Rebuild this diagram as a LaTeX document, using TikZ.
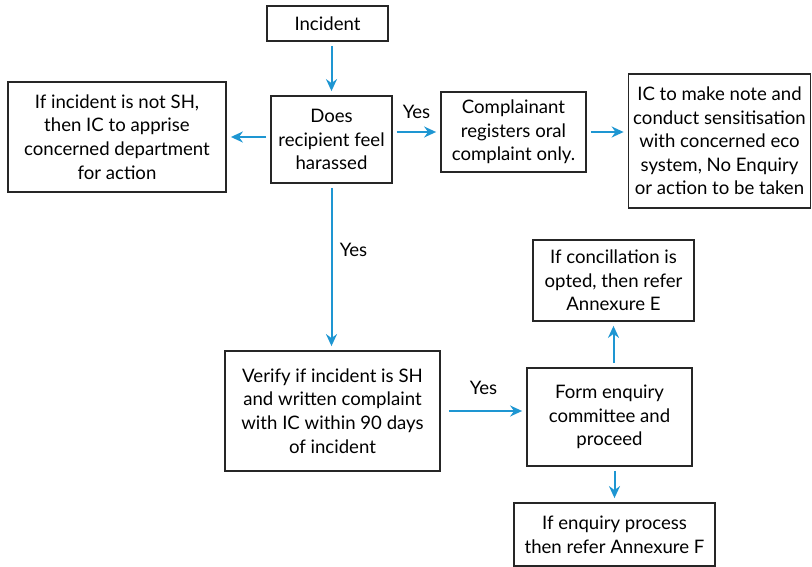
\documentclass[tikz,border=0pt]{standalone}
\usepackage{fontspec}
\setmainfont{Lato}
\usepackage{xcolor}
\usetikzlibrary{arrows.meta}

\definecolor{flowblue}{RGB}{30,150,210}

\begin{document}
\begin{tikzpicture}[x=1pt,y=-1pt,
    box/.style={draw=black!85,line width=1.8pt,inner sep=0pt,align=center,
      font=\fontsize{18.6}{23.6}\selectfont},
    flow/.style={draw=flowblue,line width=2pt,-{Stealth[length=12pt,width=11pt,inset=4pt]},
      shorten <=4pt,shorten >=4pt},
    lbl/.style={font=\fontsize{18.6}{20}\selectfont}]
  \useasboundingbox (0,0) rectangle (812,567);

  % Top row
  \node[box,minimum width=121pt,minimum height=35pt] (incident) at (327.5,23.5) {Incident};
  \node[box,minimum width=121pt,minimum height=87pt] (does) at (331.5,139.5)
    {Does\\recipient feel\\harassed};
  \node[box,minimum width=218pt,minimum height=110pt] (notsh) at (117,137)
    {If incident is not SH,\\then IC to apprise\\concerned department\\for action};
  \node[box,minimum width=145pt,minimum height=80pt] (oral) at (513.5,132)
    {Complainant\\registers oral\\complaint only.};
  \node[box,minimum width=182pt,minimum height=134pt] (note) at (719.5,141)
    {IC to make note and\\conduct sensitisation\\with concerned eco\\system, No Enquiry\\or action to be taken};

  % Lower part
  \node[box,minimum width=215pt,minimum height=120pt] (verify) at (332.5,411)
    {Verify if incident is SH\\and written complaint\\with IC within 90 days\\of incident};
  \node[box,minimum width=165pt,minimum height=98pt] (form) at (609.5,417)
    {Form enquiry\\committee and\\proceed};
  \node[box,minimum width=161pt,minimum height=81pt] (concil) at (613.5,280.5)
    {If concillation is\\opted, then refer\\Annexure E};
  \node[box,minimum width=201pt,minimum height=63pt] (enqproc) at (614.5,534.5)
    {If enquiry process\\then refer Annexure F};

  % Arrows
  \draw[flow] (incident.south -| does) -- (does.north);
  \draw[flow] (does.west |- notsh) -- (notsh.east);
  \draw[flow] (does.east |- oral) -- node[lbl,above=9pt] {Yes} (oral.west);
  \draw[flow] (oral.east) -- (oral.east -| note.west);
  \draw[flow] (does.south) -- node[lbl,right=4pt,pos=0.4] {Yes} (does.south |- verify.north);
  \draw[flow,shorten <=8pt] (verify.east) -- node[lbl,above=12pt] {Yes} (verify.east -| form.west);
  \draw[flow] (form.north -| concil) -- (concil.south);
  \draw[flow] (form.south -| enqproc) -- (enqproc.north);
\end{tikzpicture}
\end{document}
